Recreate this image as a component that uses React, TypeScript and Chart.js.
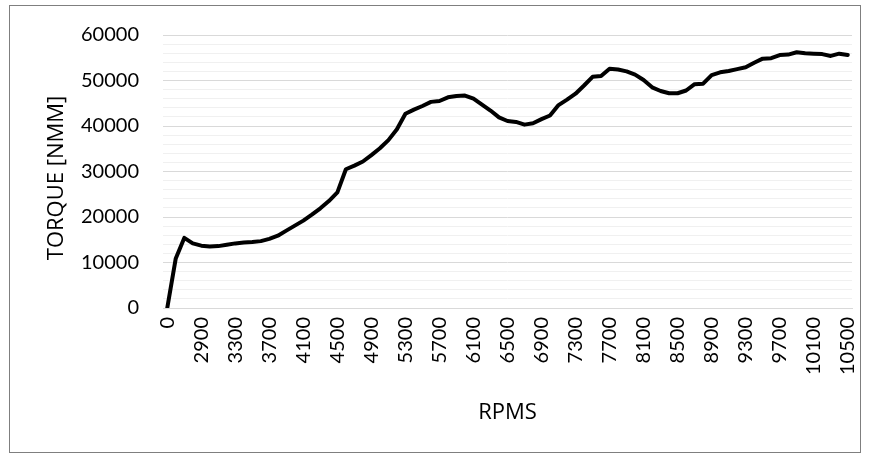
import React, { useEffect, useRef } from "react";
import { Chart, registerables } from "chart.js";

Chart.register(...registerables);

const rpmLabels: string[] = [
  "0", "2600", "2700", "2800", "2900", "3000", "3100", "3200", "3300", "3400",
  "3500", "3600", "3700", "3800", "3900", "4000", "4100", "4200", "4300", "4400",
  "4500", "4600", "4700", "4800", "4900", "5000", "5100", "5200", "5300", "5400",
  "5500", "5600", "5700", "5800", "5900", "6000", "6100", "6200", "6300", "6400",
  "6500", "6600", "6700", "6800", "6900", "7000", "7100", "7200", "7300", "7400",
  "7500", "7600", "7700", "7800", "7900", "8000", "8100", "8200", "8300", "8400",
  "8500", "8600", "8700", "8800", "8900", "9000", "9100", "9200", "9300", "9400",
  "9500", "9600", "9700", "9800", "9900", "10000", "10100", "10200", "10300", "10400",
  "10500",
];

const torqueValues: number[] = [
  0, 10900, 15400, 14200, 13700, 13500, 13600, 13900, 14200, 14400,
  14500, 14700, 15200, 15900, 17000, 18100, 19200, 20500, 21900, 23500,
  25400, 30500, 31300, 32200, 33600, 35100, 36900, 39300, 42700, 43600,
  44400, 45300, 45500, 46300, 46600, 46700, 46000, 44700, 43400, 41900,
  41100, 40900, 40300, 40600, 41500, 42300, 44600, 45800, 47100, 48900,
  50800, 51000, 52600, 52400, 52000, 51300, 50100, 48500, 47700, 47200,
  47200, 47800, 49200, 49300, 51200, 51800, 52100, 52500, 52900, 53900,
  54800, 54900, 55600, 55700, 56200, 56000, 55900, 55800, 55400, 55900,
  55600,
];

const yAxisTitle = "TORQUE [NMM]";
const xAxisTitle = "RPMS";

const TICK_FONT = "Lato, 'Open Sans', sans-serif";
const TITLE_FONT = "'Open Sans', Lato, sans-serif";

const decorPlugin = {
  id: "decor",
  afterDraw(chart: any) {
    const ctx = chart.ctx;
    ctx.save();
    ctx.strokeStyle = "#7f7f7f";
    ctx.lineWidth = 1;
    ctx.strokeRect(9.5, 5.5, 851, 447);
    ctx.translate(57, 178);
    ctx.rotate(-Math.PI / 2);
    ctx.fillStyle = "#000000";
    ctx.font = "22px " + TITLE_FONT;
    ctx.textAlign = "center";
    ctx.textBaseline = "middle";
    ctx.fillText(yAxisTitle, 0, 0);
    ctx.restore();
  },
};

export default function App() {
  const ref = useRef<HTMLCanvasElement | null>(null);

  useEffect(() => {
    if (!ref.current) return;
    const chart = new Chart(ref.current, {
      type: "line",
      data: {
        labels: rpmLabels,
        datasets: [
          {
            data: torqueValues,
            borderColor: "#000000",
            borderWidth: 4,
            pointRadius: 0,
            tension: 0,
            fill: false,
            borderJoinStyle: "round",
            borderCapStyle: "round",
          },
        ],
      },
      options: {
        animation: false,
        responsive: false,
        layout: { padding: { top: 35, right: 17, bottom: 0, left: 0 } },
        plugins: {
          legend: { display: false },
          tooltip: { enabled: false },
        },
        scales: {
          x: {
            type: "category",
            offset: true,
            grid: { display: false, drawTicks: false },
            border: { display: true, color: "#d9d9d9", width: 1 },
            ticks: {
              autoSkip: false,
              minRotation: 90,
              maxRotation: 90,
              padding: 9,
              color: "#000000",
              font: { family: TICK_FONT, size: 20 },
              callback: (_v: any, i: number) => (i % 4 === 0 ? rpmLabels[i] : ""),
            },
            title: {
              display: true,
              text: xAxisTitle,
              color: "#000000",
              font: { family: TITLE_FONT, size: 22 },
              padding: { top: 0, bottom: 29 },
            },
            afterFit: (scale: any) => {
              scale.height = 147;
              scale.paddingLeft = 0;
              scale.paddingRight = 0;
            },
          },
          y: {
            min: 0,
            max: 60000,
            grid: {
              drawTicks: false,
              color: (c: any) =>
                c.tick && c.tick.value % 10000 === 0 ? "#d9d9d9" : "#f0f0f0",
              lineWidth: 1,
            },
            border: { display: false },
            ticks: {
              stepSize: 2000,
              autoSkip: false,
              padding: 24,
              color: "#000000",
              font: { family: TICK_FONT, size: 20 },
              callback: (v: any) => (Number(v) % 10000 === 0 ? String(v) : ""),
            },
            title: { display: false },
            afterFit: (scale: any) => {
              scale.width = 163;
              scale.paddingTop = 0;
              scale.paddingBottom = 0;
            },
          },
        },
      },
      plugins: [decorPlugin],
    } as any);
    return () => chart.destroy();
  }, []);

  return (
    <div style={{ position: "absolute", left: 0, top: 0, width: 869, height: 455, background: "#ffffff" }}>
      <canvas ref={ref} width={869} height={455} style={{ display: "block", width: 869, height: 455 }} />
    </div>
  );
}
